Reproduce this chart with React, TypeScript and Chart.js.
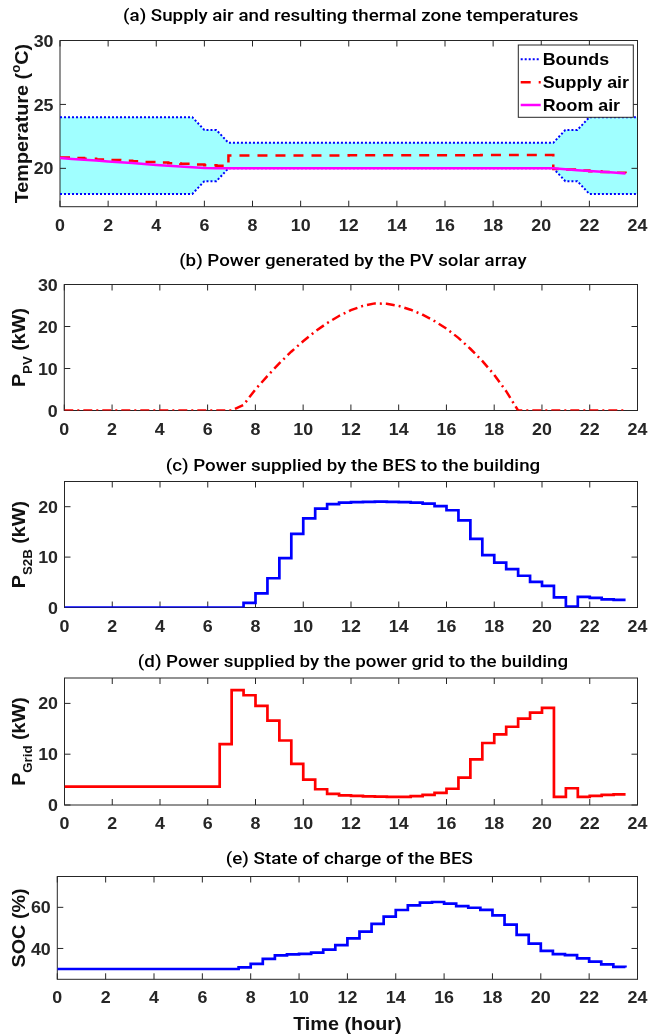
import React, { useEffect, useRef } from "react";
import { Chart, registerables } from "chart.js";

Chart.register(...registerables);

// ---------------- data ----------------
const HOURS = [
  0, 0.5, 1, 1.5, 2, 2.5, 3, 3.5, 4, 4.5, 5, 5.5, 6, 6.5, 7, 7.5, 8, 8.5, 9, 9.5,
  10, 10.5, 11, 11.5, 12, 12.5, 13, 13.5, 14, 14.5, 15, 15.5, 16, 16.5, 17, 17.5,
  18, 18.5, 19, 19.5, 20, 20.5, 21, 21.5, 22, 22.5, 23, 23.5, 24,
];

const X_TICKS = [0, 2, 4, 6, 8, 10, 12, 14, 16, 18, 20, 22, 24];

// (a) temperatures
const BOUNDS_UPPER = [
  24, 24, 24, 24, 24, 24, 24, 24, 24, 24, 24, 24, 23, 23,
  22, 22, 22, 22, 22, 22, 22, 22, 22, 22, 22, 22, 22, 22, 22, 22, 22, 22, 22, 22,
  22, 22, 22, 22, 22, 22, 22, 22, 23, 23, 24, 24, 24, 24, 24,
];
const BOUNDS_LOWER = [
  18, 18, 18, 18, 18, 18, 18, 18, 18, 18, 18, 18, 19, 19,
  20, 20, 20, 20, 20, 20, 20, 20, 20, 20, 20, 20, 20, 20, 20, 20, 20, 20, 20, 20,
  20, 20, 20, 20, 20, 20, 20, 20, 19, 19, 18, 18, 18, 18, 18,
];
const SUPPLY_AIR = [
  20.85, 20.8, 20.75, 20.7, 20.65, 20.6, 20.55, 20.5, 20.45, 20.4, 20.35, 20.3, 20.25, 20.2,
  21.0, 21.0, 21.0, 21.0, 21.0, 21.0, 21.0, 21.0, 21.0, 21.0, 21.02, 21.02, 21.02, 21.02,
  21.02, 21.02, 21.02, 21.03, 21.03, 21.03, 21.03, 21.04, 21.04, 21.04, 21.05, 21.05, 21.05,
  19.95, 19.9, 19.84, 19.78, 19.72, 19.66, 19.62,
];
const ROOM_AIR = [
  20.8, 20.74, 20.67, 20.61, 20.54, 20.47, 20.41, 20.34, 20.27, 20.21, 20.14, 20.08, 20.02,
  20.0, 20.0, 20.0, 20.0, 20.0, 20.0, 20.0, 20.0, 20.0, 20.0, 20.0, 20.0, 20.0, 20.0, 20.0,
  20.0, 20.0, 20.0, 20.0, 20.0, 20.0, 20.0, 20.0, 20.0, 20.0, 20.0, 20.0, 20.0, 20.0,
  19.93, 19.86, 19.8, 19.73, 19.67, 19.6,
];

// (b) PV power (kW)
const PV_POWER = [
  0, 0, 0, 0, 0, 0, 0, 0, 0, 0, 0, 0, 0, 0, 0,
  1.3, 5.0, 8.2, 11.2, 14.0, 16.5, 18.8, 20.8, 22.5, 23.9, 24.9, 25.5, 25.4, 24.9, 24.0,
  22.8, 21.3, 19.5, 17.3, 14.7, 11.8, 8.5, 4.6,
  0, 0, 0, 0, 0, 0, 0, 0, 0, 0,
];

// (c) BES to building (kW)
const BES_TO_BUILDING = [
  0, 0, 0, 0, 0, 0, 0, 0, 0, 0, 0, 0, 0, 0, 0,
  0.9, 2.8, 5.8, 9.8, 14.6, 17.7, 19.6, 20.5, 20.8, 20.9, 20.95, 21.0, 20.95, 20.9, 20.8,
  20.6, 20.1, 19.3, 17.3, 13.6, 10.4, 8.9, 7.6, 6.3, 5.1, 4.3, 2.0, 0.2, 2.1, 1.9, 1.6,
  1.5, 1.5,
];

// (d) grid to building (kW)
const GRID_TO_BUILDING = [
  3.6, 3.6, 3.6, 3.6, 3.6, 3.6, 3.6, 3.6, 3.6, 3.6, 3.6, 3.6, 3.6,
  12.0, 22.6, 21.6, 19.5, 16.6, 12.7, 8.1, 5.0, 3.1, 2.2, 1.9, 1.8, 1.7, 1.65, 1.6, 1.6,
  1.75, 2.0, 2.4, 3.2, 5.4, 9.0, 12.2, 13.9, 15.4, 17.0, 18.2, 19.1, 1.6, 3.3, 1.6, 1.8,
  2.0, 2.1, 2.1,
];

// (e) state of charge (%)
const SOC = [
  30, 30, 30, 30, 30, 30, 30, 30, 30, 30, 30, 30, 30, 30, 30,
  30.8, 32.5, 34.9, 36.6, 37.1, 37.4, 38.0, 39.4, 41.6, 44.9, 48.2, 52.0, 55.5, 58.7, 61.0,
  62.3, 62.6, 61.8, 60.6, 59.8, 58.8, 56.1, 51.6, 46.6, 42.4, 38.8, 37.2, 36.8, 35.2, 33.6,
  32.3, 31.0, 30.7,
];

const Y_TICKS_A = [20, 25, 30];
const Y_TICKS_B = [0, 10, 20, 30];
const Y_TICKS_C = [0, 10, 20];
const Y_TICKS_D = [0, 10, 20];
const Y_TICKS_E = [40, 60];

const TITLES = [
  "(a) Supply air and resulting thermal zone temperatures",
  "(b) Power generated by the PV solar array",
  "(c) Power supplied by the BES to the building",
  "(d) Power supplied by the power grid to the building",
  "(e) State of charge of the BES",
];
const X_TITLE = "Time (hour)";

// ---------------- styling ----------------
const W = 651;
const AXIS_COLOR = "#262626";
const SANS = "'Liberation Sans', Arial, Helvetica, sans-serif";
const TITLE_FONT = "500 16px Roboto, 'DejaVu Sans', sans-serif";
const TITLE_SX = 1.17;
const TICK_SIZE = 17;
const TICK_SX = 1.05;
const LABEL_SIZE = 18;
const LABEL_SX = 1.1;
const LEGEND_SIZE = 17;

const pts = (vals: number[]) => vals.map((v, i) => ({ x: HOURS[i], y: v }));

type Seg = { text: string; size: number; dy: number };

function drawText(
  ctx: CanvasRenderingContext2D,
  text: string,
  x: number,
  y: number,
  font: string,
  align: CanvasTextAlign,
  sx: number,
  color: string
) {
  ctx.save();
  ctx.font = font;
  ctx.fillStyle = color;
  ctx.textAlign = align;
  ctx.textBaseline = "alphabetic";
  ctx.translate(x, y);
  ctx.scale(sx, 1);
  ctx.fillText(text, 0, 0);
  ctx.restore();
}

function drawRich(ctx: CanvasRenderingContext2D, segs: Seg[], baseX: number, centerY: number) {
  ctx.save();
  const widths = segs.map((s) => {
    ctx.font = `bold ${s.size}px ${SANS}`;
    return ctx.measureText(s.text).width;
  });
  const total = widths.reduce((a, b) => a + b, 0);
  ctx.translate(baseX, centerY);
  ctx.rotate(-Math.PI / 2);
  ctx.scale(LABEL_SX, 1);
  ctx.textAlign = "left";
  ctx.textBaseline = "alphabetic";
  ctx.fillStyle = "#111";
  let x = -total / 2;
  segs.forEach((s, i) => {
    ctx.font = `bold ${s.size}px ${SANS}`;
    ctx.fillText(s.text, x, s.dy);
    x += widths[i];
  });
  ctx.restore();
}

const framePlugin = {
  id: "frame",
  beforeDatasetsDraw(chart: any) {
    const { ctx, chartArea: a, scales } = chart;
    ctx.save();
    ctx.strokeStyle = AXIS_COLOR;
    ctx.lineWidth = 1;
    ctx.beginPath();
    const TL = 6;
    for (const t of scales.x.ticks) {
      const px = scales.x.getPixelForValue(t.value);
      ctx.moveTo(px, a.bottom);
      ctx.lineTo(px, a.bottom - TL);
      ctx.moveTo(px, a.top);
      ctx.lineTo(px, a.top + TL);
    }
    for (const t of scales.y.ticks) {
      const py = scales.y.getPixelForValue(t.value);
      ctx.moveTo(a.left, py);
      ctx.lineTo(a.left + TL, py);
      ctx.moveTo(a.right, py);
      ctx.lineTo(a.right - TL, py);
    }
    ctx.stroke();
    ctx.strokeRect(a.left, a.top, a.right - a.left, a.bottom - a.top);
    ctx.restore();
  },
  afterDraw(chart: any) {
    const o = chart.options.plugins.frame;
    const { ctx, chartArea: a, scales } = chart;
    const tickFont = `bold ${TICK_SIZE}px ${SANS}`;
    const capHalf = TICK_SIZE * 0.716 / 2;
    // tick labels
    for (const t of scales.x.ticks) {
      const px = scales.x.getPixelForValue(t.value);
      drawText(ctx, String(t.value), px, a.bottom + 18 + capHalf, tickFont, "center", TICK_SX, AXIS_COLOR);
    }
    for (const t of scales.y.ticks) {
      const py = scales.y.getPixelForValue(t.value);
      drawText(ctx, String(t.value), a.left - 6.5, py + capHalf, tickFont, "right", TICK_SX, AXIS_COLOR);
    }
    // title
    drawText(ctx, o.title, (a.left + a.right) / 2 + 2, o.titleY + 5.6, TITLE_FONT, "center", TITLE_SX, "#000");
    // x title
    if (o.xTitle) {
      drawText(ctx, o.xTitle, (a.left + a.right) / 2, o.xTitleY + 6.5, `bold ${LABEL_SIZE}px ${SANS}`, "center", LABEL_SX, "#111");
    }
    drawRich(ctx, o.yTitle, o.yTitleX, (a.top + a.bottom) / 2);
    // legend
    if (o.legend) {
      const items = chart.data.datasets.filter((d: any) => d.inLegend);
      const bw = 115, bh = 72.3;
      const bx = a.right - 4.2 - bw;
      const by = a.top + 4.5;
      ctx.save();
      ctx.fillStyle = "#fff";
      ctx.fillRect(bx, by, bw, bh);
      ctx.strokeStyle = AXIS_COLOR;
      ctx.lineWidth = 1;
      ctx.strokeRect(bx, by, bw, bh);
      items.forEach((d: any, i: number) => {
        const y = by + 14.3 + i * 22.85;
        ctx.beginPath();
        ctx.strokeStyle = d.borderColor;
        ctx.lineWidth = d.borderWidth;
        ctx.setLineDash(d.borderDash || []);
        ctx.moveTo(bx + 2.4, y);
        ctx.lineTo(bx + 22.4, y);
        ctx.stroke();
        ctx.setLineDash([]);
        drawText(ctx, d.label, bx + 24.4, y + LEGEND_SIZE * 0.358, `bold ${LEGEND_SIZE}px ${SANS}`, "left", TICK_SX, "#000");
      });
      ctx.restore();
    }
  },
};

type PanelCfg = {
  bandTop: number;
  bandH: number;
  L: number;
  R: number;
  T: number;
  B: number;
  yMin: number;
  yMax: number;
  yTicks: number[];
  datasets: any[];
  title: string;
  titleY: number;
  yTitle: Seg[];
  yTitleX: number;
  xTitle?: string;
  xTitleY?: number;
  legend?: boolean;
};

const line = (extra: any) => ({
  pointRadius: 0,
  pointHoverRadius: 0,
  fill: false,
  tension: 0,
  borderCapStyle: "butt",
  ...extra,
});

const PANELS: PanelCfg[] = [
  {
    bandTop: 0, bandH: 240, L: 60, R: 637.5, T: 40.5, B: 206.7,
    yMin: 17, yMax: 30, yTicks: Y_TICKS_A,
    title: TITLES[0], titleY: 15.7,
    yTitle: [
      { text: "Temperature (", size: LABEL_SIZE, dy: 0 },
      { text: "o", size: 12, dy: -8 },
      { text: "C)", size: LABEL_SIZE, dy: 0 },
    ],
    yTitleX: 28.3,
    legend: true,
    datasets: [
      line({ label: "Bounds", inLegend: true, data: pts(BOUNDS_UPPER), borderColor: "#0000FF", borderWidth: 2, borderDash: [2, 2], fill: "+1", backgroundColor: "rgb(160,255,255)", order: 3 }),
      line({ label: "Lower bound", data: pts(BOUNDS_LOWER), borderColor: "#0000FF", borderWidth: 2, borderDash: [2, 2], order: 3 }),
      line({ label: "Supply air", inLegend: true, data: pts(SUPPLY_AIR), borderColor: "#FF0000", borderWidth: 2.5, borderDash: [10, 8], stepped: "before", order: 2 }),
      line({ label: "Room air", inLegend: true, data: pts(ROOM_AIR), borderColor: "#FF00FF", borderWidth: 2.5, order: 1 }),
    ],
  },
  {
    bandTop: 240, bandH: 200, L: 64.3, R: 637.5, T: 284.5, B: 410.5,
    yMin: 0, yMax: 30, yTicks: Y_TICKS_B,
    title: TITLES[1], titleY: 260.7,
    yTitle: [
      { text: "P", size: LABEL_SIZE, dy: 0 },
      { text: "PV", size: 12, dy: 7 },
      { text: " (kW)", size: LABEL_SIZE, dy: 0 },
    ],
    yTitleX: 25,
    datasets: [
      line({ label: "PV", data: pts(PV_POWER), borderColor: "#FF0000", borderWidth: 2.5, borderDash: [9, 4, 2, 4] }),
    ],
  },
  {
    bandTop: 440, bandH: 200, L: 64.5, R: 637.5, T: 481.5, B: 607.5,
    yMin: 0, yMax: 25, yTicks: Y_TICKS_C,
    title: TITLES[2], titleY: 465,
    yTitle: [
      { text: "P", size: LABEL_SIZE, dy: 0 },
      { text: "S2B", size: 12, dy: 7 },
      { text: " (kW)", size: LABEL_SIZE, dy: 0 },
    ],
    yTitleX: 25,
    datasets: [
      line({ label: "S2B", data: pts(BES_TO_BUILDING), borderColor: "#0000FF", borderWidth: 2.7, stepped: "before" }),
    ],
  },
  {
    bandTop: 640, bandH: 200, L: 64.5, R: 637.5, T: 678, B: 805,
    yMin: 0, yMax: 25, yTicks: Y_TICKS_D,
    title: TITLES[3], titleY: 661,
    yTitle: [
      { text: "P", size: LABEL_SIZE, dy: 0 },
      { text: "Grid", size: 12, dy: 7 },
      { text: " (kW)", size: LABEL_SIZE, dy: 0 },
    ],
    yTitleX: 25,
    datasets: [
      line({ label: "Grid", data: pts(GRID_TO_BUILDING), borderColor: "#FF0000", borderWidth: 2.7, stepped: "before" }),
    ],
  },
  {
    bandTop: 840, bandH: 194, L: 57.3, R: 637.5, T: 876.5, B: 979.3,
    yMin: 25, yMax: 75, yTicks: Y_TICKS_E,
    title: TITLES[4], titleY: 858.3,
    yTitle: [{ text: "SOC (%)", size: LABEL_SIZE, dy: 0 }],
    yTitleX: 25,
    xTitle: X_TITLE, xTitleY: 1023,
    datasets: [
      line({ label: "SOC", data: pts(SOC), borderColor: "#0000FF", borderWidth: 2.7, stepped: "before" }),
    ],
  },
];

function Panel({ cfg }: { cfg: PanelCfg }) {
  const ref = useRef<HTMLCanvasElement | null>(null);
  useEffect(() => {
    const c = cfg;
    const rel = (y: number) => y - c.bandTop;
    const chart = new Chart(ref.current as HTMLCanvasElement, {
      type: "line",
      data: { datasets: c.datasets },
      plugins: [framePlugin as any],
      options: {
        animation: false,
        responsive: false,
        devicePixelRatio: 1,
        events: [],
        layout: { padding: { top: rel(c.T), left: 0, right: W - c.R, bottom: 0 } },
        plugins: {
          legend: { display: false },
          tooltip: { enabled: false },
          title: { display: false },
          filler: { drawTime: "beforeDatasetsDraw" },
          frame: {
            title: c.title,
            titleY: rel(c.titleY),
            yTitle: c.yTitle,
            yTitleX: c.yTitleX,
            xTitle: c.xTitle,
            xTitleY: c.xTitleY !== undefined ? rel(c.xTitleY) : 0,
            legend: !!c.legend,
          },
        } as any,
        scales: {
          x: {
            type: "linear",
            min: 0,
            max: 24,
            grid: { display: false, drawTicks: false },
            border: { display: false },
            afterBuildTicks: (s: any) => {
              s.ticks = X_TICKS.map((v) => ({ value: v }));
            },
            afterFit: (s: any) => {
              s.height = c.bandTop + c.bandH - c.B;
            },
            ticks: { display: false, autoSkip: false, maxRotation: 0 },
          },
          y: {
            type: "linear",
            min: c.yMin,
            max: c.yMax,
            grid: { display: false, drawTicks: false },
            border: { display: false },
            afterBuildTicks: (s: any) => {
              s.ticks = c.yTicks.map((v) => ({ value: v }));
            },
            afterFit: (s: any) => {
              s.width = c.L;
            },
            ticks: { display: false, autoSkip: false },
          },
        },
      } as any,
    });
    return () => chart.destroy();
  }, [cfg]);
  return (
    <canvas
      ref={ref}
      width={W}
      height={cfg.bandH}
      style={{ position: "absolute", left: 0, top: cfg.bandTop, width: W, height: cfg.bandH }}
    />
  );
}

export default function App() {
  return (
    <div style={{ position: "absolute", left: 0, top: 0, width: W, height: 1034, background: "#fff" }}>
      {PANELS.map((p, i) => (
        <Panel key={i} cfg={p} />
      ))}
    </div>
  );
}
